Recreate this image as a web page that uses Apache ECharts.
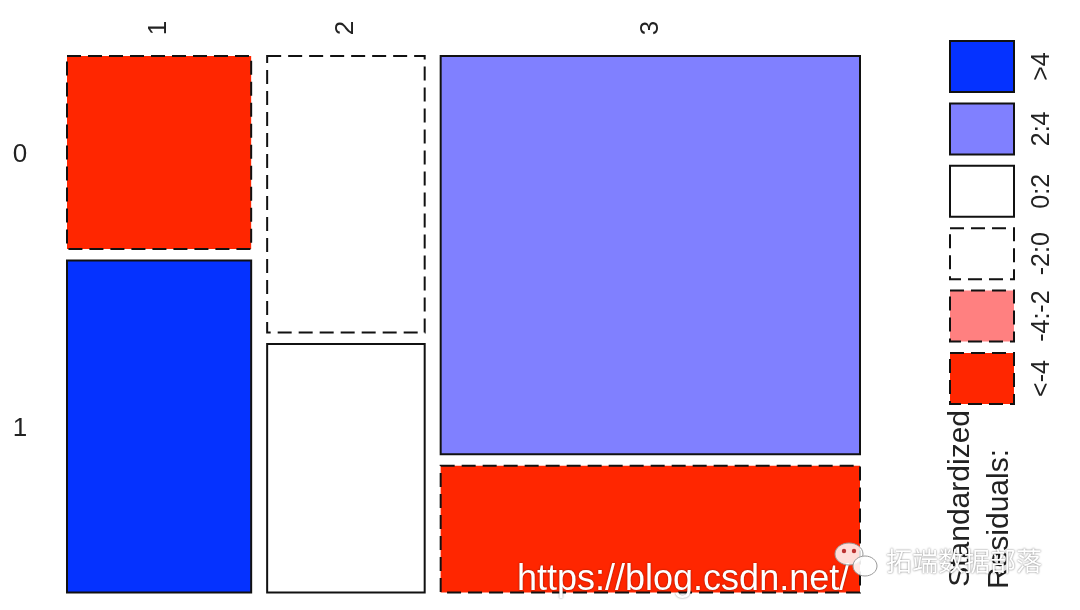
<!DOCTYPE html>
<html style="height: 100%">
<head>
<meta charset="UTF-8">
<title>Mosaic plot</title>
<script src="https://cdn.jsdelivr.net/npm/echarts@6/dist/echarts.min.js"></script>
</head>
<body style="height: 100%;margin: 0;background:#fff">
<div id="main" style="width:1080px;height:610px"></div>
<script type="text/javascript">
// column / row categories
var colLabels = ['1', '2', '3'];
var rowLabels = ['0', '1'];
// counts per cell
var countsRow0 = [89, 109, 418];
var countsRow1 = [153, 98, 133];
// residual class of each cell
var classRow0 = ['<-4', '-2:0', '2:4'];
var classRow1 = ['>4', '0:2', '<-4'];
// legend
var legendLabels = ['>4', '2:4', '0:2', '-2:0', '-4:-2', '<-4'];
var legendTitle = ['Standardized', 'Residuals:'];

// shading for each residual class
var shade = {
	'>4':    {fill: '#0532ff', dash: false},
	'2:4':   {fill: '#8080ff', dash: false},
	'0:2':   {fill: '#ffffff', dash: false},
	'-2:0':  {fill: '#ffffff', dash: true},
	'-4:-2': {fill: '#ff8080', dash: true},
	'<-4':   {fill: '#ff2600', dash: true}
};
var FONT = 'Liberation Sans';
var xGap = 0.021, yGap = 0.0219;

//build the tiles: [x0, x1, y0, y1, col, row]
var grandTotal = 0;
for (var i = 0; i < colLabels.length; i++) grandTotal += countsRow0[i] + countsRow1[i];
var tiles = [];
var xs = 0;
for (var i = 0; i < colLabels.length; i++) {
	var colTotal = countsRow0[i] + countsRow1[i];
	var w = colTotal / grandTotal;
	var p0 = countsRow0[i] / colTotal;
	tiles.push([xs, xs + w, 0, p0, i, 0]);
	tiles.push([xs, xs + w, p0 + yGap, 1 + yGap, i, 1]);
	xs += w + xGap;
}

function renderTile(params, api) {
	var d = tiles[params.dataIndex];
	var a = api.coord([d[0], d[2]]);
	var b = api.coord([d[1], d[3]]);
	var cls = d[5] === 0 ? classRow0[d[4]] : classRow1[d[4]];
	var sh = shade[cls];
	var children = [{
		type: 'rect',
		shape: {x: a[0], y: a[1], width: b[0] - a[0], height: b[1] - a[1]},
		style: {
			fill: sh.fill,
			stroke: '#111',
			lineWidth: 2,
			lineDash: sh.dash ? [14, 7] : 'solid'
		}
	}];
	// column label on top
	if (d[5] === 0) {
		children.push({
			type: 'text', x: (a[0] + b[0]) / 2, y: 28, rotation: Math.PI / 2,
			style: {text: colLabels[d[4]], fontSize: 26, fontFamily: FONT, fill: '#222',
				align: 'center', verticalAlign: 'middle'}
		});
	}
	// row label on the left, aligned with first column
	if (d[4] === 0) {
		children.push({
			type: 'text', x: 20, y: (a[1] + b[1]) / 2 + 2,
			style: {text: rowLabels[d[5]], fontSize: 26, fontFamily: FONT, fill: '#222',
				align: 'center', verticalAlign: 'middle'}
		});
	}
	return {type: 'group', children: children};
}

// legend boxes and labels
var graphics = [];
for (var k = 0; k < legendLabels.length; k++) {
	var lsh = shade[legendLabels[k]];
	var boxTop = 41 + k * 62.4;
	graphics.push({
		type: 'rect', shape: {x: 950, y: boxTop, width: 64, height: 51},
		style: {fill: lsh.fill, stroke: '#111', lineWidth: 2, lineDash: lsh.dash ? [14, 7] : 'solid'}
	});
	graphics.push({
		type: 'text', x: 1042, y: boxTop + 25.5, rotation: Math.PI / 2,
		style: {text: legendLabels[k], fontSize: 25, fontFamily: FONT, fill: '#222',
			align: 'center', verticalAlign: 'middle'}
	});
}
graphics.push({
	type: 'text', x: 961, y: 410, rotation: Math.PI / 2,
	style: {text: legendTitle[0], fontSize: 30, fontFamily: FONT, fill: '#222', align: 'right', verticalAlign: 'middle'}
});
graphics.push({
	type: 'text', x: 1000, y: 449, rotation: Math.PI / 2,
	style: {text: legendTitle[1], fontSize: 30, fontFamily: FONT, fill: '#222', align: 'right', verticalAlign: 'middle'}
});
// watermark, drawn over everything
graphics.push({
	type: 'text', x: 517, y: 580, z: 100,
	style: {text: 'https://blog.csdn.net/', fontSize: 36, fontFamily: FONT, fill: '#fff',
		textShadowColor: 'rgba(0,0,0,0.5)', textShadowBlur: 2, align: 'left', verticalAlign: 'middle'}
});
graphics.push({
	type: 'ellipse', z: 100, shape: {cx: 849, cy: 554, rx: 14, ry: 11},
	style: {fill: 'rgba(255,255,255,0.85)', stroke: '#999', lineWidth: 1}
});
graphics.push({
	type: 'circle', z: 101, shape: {cx: 844, cy: 551, r: 2.2}, style: {fill: '#b33'}
});
graphics.push({
	type: 'circle', z: 101, shape: {cx: 854, cy: 551, r: 2.2}, style: {fill: '#b33'}
});
graphics.push({
	type: 'ellipse', z: 102, shape: {cx: 865, cy: 566, rx: 12, ry: 10},
	style: {fill: 'rgba(255,255,255,0.9)', stroke: '#999', lineWidth: 1}
});
graphics.push({
	type: 'text', x: 886, y: 561, z: 100,
	style: {text: '拓端数据部落', fontSize: 26, fontFamily: 'Noto Sans CJK SC', fill: '#fff',
		textShadowColor: 'rgba(0,0,0,0.6)', textShadowBlur: 2, align: 'left', verticalAlign: 'middle'}
});

var myChart = echarts.init(document.getElementById('main'));
var option = {
	backgroundColor: '#fff',
	animation: false,
	grid: {left: 67, right: 220, top: 56, bottom: 17.5},
	xAxis: {type: 'value', min: 0, max: 1 + 2 * xGap, show: false},
	yAxis: {type: 'value', min: 0, max: 1 + yGap, inverse: true, show: false},
	graphic: graphics,
	series: [{
		type: 'custom',
		renderItem: renderTile,
		encode: {x: [0, 1], y: [2, 3]},
		data: tiles,
		silent: true
	}]
};
myChart.setOption(option);
</script>
</body>
</html>
